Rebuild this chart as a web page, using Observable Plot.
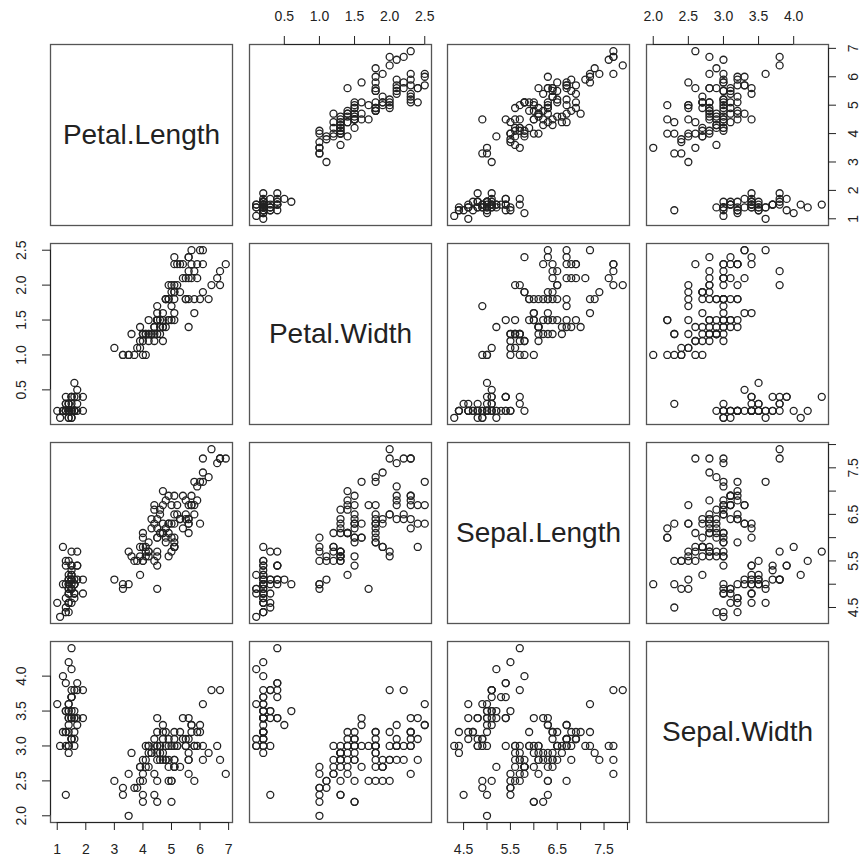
<!DOCTYPE html>
<html><head><meta charset="utf-8">
<script src="https://cdn.jsdelivr.net/npm/d3@7"></script>
<script src="https://cdn.jsdelivr.net/npm/@observablehq/plot@0.6"></script>
<style>
body{margin:0;background:#fff;}
#chart{position:relative;width:865px;height:860px;background:#fff;overflow:hidden;}
#chart svg{position:absolute;}
</style></head><body><div id="chart"></div>
<script>
// ---- data (iris) ----
const variables = ["Petal.Length", "Petal.Width", "Sepal.Length", "Sepal.Width"];
const sepalLength = [5.1,4.9,4.7,4.6,5.0,5.4,4.6,5.0,4.4,4.9,5.4,4.8,4.8,4.3,5.8,5.7,5.4,5.1,5.7,5.1,5.4,5.1,4.6,5.1,4.8,5.0,5.0,5.2,5.2,4.7,4.8,5.4,5.2,5.5,4.9,5.0,5.5,4.9,4.4,5.1,5.0,4.5,4.4,5.0,5.1,4.8,5.1,4.6,5.3,5.0,
7.0,6.4,6.9,5.5,6.5,5.7,6.3,4.9,6.6,5.2,5.0,5.9,6.0,6.1,5.6,6.7,5.6,5.8,6.2,5.6,5.9,6.1,6.3,6.1,6.4,6.6,6.8,6.7,6.0,5.7,5.5,5.5,5.8,6.0,5.4,6.0,6.7,6.3,5.6,5.5,5.5,6.1,5.8,5.0,5.6,5.7,5.7,6.2,5.1,5.7,
6.3,5.8,7.1,6.3,6.5,7.6,4.9,7.3,6.7,7.2,6.5,6.4,6.8,5.7,5.8,6.4,6.5,7.7,7.7,6.0,6.9,5.6,7.7,6.3,6.7,7.2,6.2,6.1,6.4,7.2,7.4,7.9,6.4,6.3,6.1,7.7,6.3,6.4,6.0,6.9,6.7,6.9,5.8,6.8,6.7,6.7,6.3,6.5,6.2,5.9];
const sepalWidth = [3.5,3.0,3.2,3.1,3.6,3.9,3.4,3.4,2.9,3.1,3.7,3.4,3.0,3.0,4.0,4.4,3.9,3.5,3.8,3.8,3.4,3.7,3.6,3.3,3.4,3.0,3.4,3.5,3.4,3.2,3.1,3.4,4.1,4.2,3.1,3.2,3.5,3.6,3.0,3.4,3.5,2.3,3.2,3.5,3.8,3.0,3.8,3.2,3.7,3.3,
3.2,3.2,3.1,2.3,2.8,2.8,3.3,2.4,2.9,2.7,2.0,3.0,2.2,2.9,2.9,3.1,3.0,2.7,2.2,2.5,3.2,2.8,2.5,2.8,2.9,3.0,2.8,3.0,2.9,2.6,2.4,2.4,2.7,2.7,3.0,3.4,3.1,2.3,3.0,2.5,2.6,3.0,2.6,2.3,2.7,3.0,2.9,2.9,2.5,2.8,
3.3,2.7,3.0,2.9,3.0,3.0,2.5,2.9,2.5,3.6,3.2,2.7,3.0,2.5,2.8,3.2,3.0,3.8,2.6,2.2,3.2,2.8,2.8,2.7,3.3,3.2,2.8,3.0,2.8,3.0,2.8,3.8,2.8,2.8,2.6,3.0,3.4,3.1,3.0,3.1,3.1,3.1,2.7,3.2,3.3,3.0,2.5,3.0,3.4,3.0];
const petalLength = [1.4,1.4,1.3,1.5,1.4,1.7,1.4,1.5,1.4,1.5,1.5,1.6,1.4,1.1,1.2,1.5,1.3,1.4,1.7,1.5,1.7,1.5,1.0,1.7,1.9,1.6,1.6,1.5,1.4,1.6,1.6,1.5,1.5,1.4,1.5,1.2,1.3,1.4,1.3,1.5,1.3,1.3,1.3,1.6,1.9,1.4,1.6,1.4,1.5,1.4,
4.7,4.5,4.9,4.0,4.6,4.5,4.7,3.3,4.6,3.9,3.5,4.2,4.0,4.7,3.6,4.4,4.5,4.1,4.5,3.9,4.8,4.0,4.9,4.7,4.3,4.4,4.8,5.0,4.5,3.5,3.8,3.7,3.9,5.1,4.5,4.5,4.7,4.4,4.1,4.0,4.4,4.6,4.0,3.3,4.2,4.2,4.2,4.3,3.0,4.1,
6.0,5.1,5.9,5.6,5.8,6.6,4.5,6.3,5.8,6.1,5.1,5.3,5.5,5.0,5.1,5.3,5.5,6.7,6.9,5.0,5.7,4.9,6.7,4.9,5.7,6.0,4.8,4.9,5.6,5.8,6.1,6.4,5.6,5.1,5.6,6.1,5.6,5.5,4.8,5.4,5.6,5.1,5.1,5.9,5.7,5.2,5.0,5.2,5.4,5.1];
const petalWidth = [0.2,0.2,0.2,0.2,0.2,0.4,0.3,0.2,0.2,0.1,0.2,0.2,0.1,0.1,0.2,0.4,0.4,0.3,0.3,0.3,0.2,0.4,0.2,0.5,0.2,0.2,0.4,0.2,0.2,0.2,0.2,0.4,0.1,0.2,0.2,0.2,0.2,0.1,0.2,0.2,0.3,0.3,0.2,0.6,0.4,0.3,0.2,0.2,0.2,0.2,
1.4,1.5,1.5,1.3,1.5,1.3,1.6,1.0,1.3,1.4,1.0,1.5,1.0,1.4,1.3,1.4,1.5,1.0,1.5,1.1,1.8,1.3,1.5,1.2,1.3,1.4,1.4,1.7,1.5,1.0,1.1,1.0,1.2,1.6,1.5,1.6,1.5,1.3,1.3,1.3,1.2,1.4,1.2,1.0,1.3,1.2,1.3,1.3,1.1,1.3,
2.5,1.9,2.1,1.8,2.2,2.1,1.7,1.8,1.8,2.5,2.0,1.9,2.1,2.0,2.4,2.3,1.8,2.2,2.3,1.5,2.3,2.0,2.0,1.8,2.1,1.8,1.8,1.8,2.1,1.6,1.9,2.0,2.2,1.5,1.4,2.3,2.4,1.8,1.8,2.1,2.4,2.3,1.9,2.3,2.5,2.3,1.9,2.0,2.3,1.8];

// ---- tick values and labels ----
const petalLengthTicks = [1, 2, 3, 4, 5, 6, 7];
const petalLengthLabels = [1, 2, 3, 4, 5, 6, 7];
const petalWidthTicks = [0.5, 1.0, 1.5, 2.0, 2.5];
const petalWidthLabels = [0.5, 1.0, 1.5, 2.0, 2.5];
const sepalLengthTicks = [4.5, 5.0, 5.5, 6.0, 6.5, 7.0, 7.5, 8.0];
const sepalLengthLabels = [4.5, 5.5, 6.5, 7.5];
const sepalWidthTicks = [2.0, 2.5, 3.0, 3.5, 4.0];
const sepalWidthLabels = [2.0, 2.5, 3.0, 3.5, 4.0];

const columns = {
  "Petal.Length": petalLength,
  "Petal.Width": petalWidth,
  "Sepal.Length": sepalLength,
  "Sepal.Width": sepalWidth
};
const tickInfo = {
  "Petal.Length": {ticks: petalLengthTicks, labels: petalLengthLabels, fmt: d => String(d)},
  "Petal.Width": {ticks: petalWidthTicks, labels: petalWidthLabels, fmt: d => d.toFixed(1)},
  "Sepal.Length": {ticks: sepalLengthTicks, labels: sepalLengthLabels, fmt: d => d.toFixed(1)},
  "Sepal.Width": {ticks: sepalWidthTicks, labels: sepalWidthLabels, fmt: d => d.toFixed(1)}
};
const iris = d3.range(sepalLength.length).map(k => ({
  "Sepal.Length": sepalLength[k], "Sepal.Width": sepalWidth[k],
  "Petal.Length": petalLength[k], "Petal.Width": petalWidth[k]
}));

// R-style domain: range extended by 4% on each side
function ext(name) {
  const [lo, hi] = d3.extent(columns[name]);
  const pad = 0.04 * (hi - lo);
  return [lo - pad, hi + pad];
}

// ---- layout ----
const colLeft = [50, 249, 447, 646];
const rowTop = [44, 243, 442, 641];
const panelW = 182, panelH = 181, M = 40, TK = 8;
const n = variables.length;
const font = "'Liberation Sans', Arial, Helvetica, sans-serif";
const ink = "#222";

const chart = document.getElementById("chart");
for (let i = 0; i < n; ++i) {
  for (let j = 0; j < n; ++j) {
    const vx = variables[j], vy = variables[i];
    const xd = ext(vx), yd = ext(vy);
    const marks = [];
    if (i === j) {
      marks.push(Plot.text([vy], {text: d => d, frameAnchor: "middle", fontSize: 28, fill: ink}));
    } else {
      marks.push(Plot.dot(iris, {x: vx, y: vy, r: 3.5, stroke: "#222", strokeWidth: 1.3, fill: "none"}));
    }
    marks.push(Plot.frame({stroke: "#555", strokeWidth: 1.3}));
    const tx = tickInfo[vx], ty = tickInfo[vy];
    // column axes: odd columns (1-based) at bottom of last row, even columns at top of first row
    if (j % 2 === 0 && i === n - 1) {
      marks.push(Plot.ruleY([yd[0]], {x1: tx.ticks[0], x2: tx.ticks[tx.ticks.length - 1], stroke: ink}));
      marks.push(Plot.ruleX(tx.ticks, {x: d => d, insetTop: panelH, insetBottom: -TK, stroke: ink}));
      marks.push(Plot.text(tx.labels, {x: d => d, text: tx.fmt, frameAnchor: "bottom", dy: 27, lineAnchor: "middle", fill: ink}));
    }
    if (j % 2 === 1 && i === 0) {
      marks.push(Plot.ruleY([yd[1]], {x1: tx.ticks[0], x2: tx.ticks[tx.ticks.length - 1], stroke: ink}));
      marks.push(Plot.ruleX(tx.ticks, {x: d => d, insetTop: -TK, insetBottom: panelH, stroke: ink}));
      marks.push(Plot.text(tx.labels, {x: d => d, text: tx.fmt, frameAnchor: "top", dy: -28, lineAnchor: "middle", fill: ink}));
    }
    // row axes: odd rows at right of last column, even rows at left of first column
    if (i % 2 === 0 && j === n - 1) {
      marks.push(Plot.ruleX([xd[1]], {y1: ty.ticks[0], y2: ty.ticks[ty.ticks.length - 1], stroke: ink}));
      marks.push(Plot.ruleY(ty.ticks, {y: d => d, insetLeft: panelW, insetRight: -TK, stroke: ink}));
      marks.push(Plot.text(ty.labels, {y: d => d, text: ty.fmt, frameAnchor: "right", dx: 25, rotate: -90, textAnchor: "middle", lineAnchor: "middle", fill: ink}));
    }
    if (i % 2 === 1 && j === 0) {
      marks.push(Plot.ruleX([xd[0]], {y1: ty.ticks[0], y2: ty.ticks[ty.ticks.length - 1], stroke: ink}));
      marks.push(Plot.ruleY(ty.ticks, {y: d => d, insetLeft: -TK, insetRight: panelW, stroke: ink}));
      marks.push(Plot.text(ty.labels, {y: d => d, text: ty.fmt, frameAnchor: "left", dx: -29, rotate: -90, textAnchor: "middle", lineAnchor: "middle", fill: ink}));
    }
    const svg = Plot.plot({
      width: panelW + 2 * M,
      height: panelH + 2 * M,
      margin: M,
      x: {domain: xd, axis: null},
      y: {domain: yd, axis: null},
      style: {background: "transparent", overflow: "visible", fontFamily: font, fontSize: "14px", color: ink},
      marks
    });
    svg.style.left = (colLeft[j] - M) + "px";
    svg.style.top = (rowTop[i] - M) + "px";
    chart.appendChild(svg);
  }
}
</script>
</body></html>
